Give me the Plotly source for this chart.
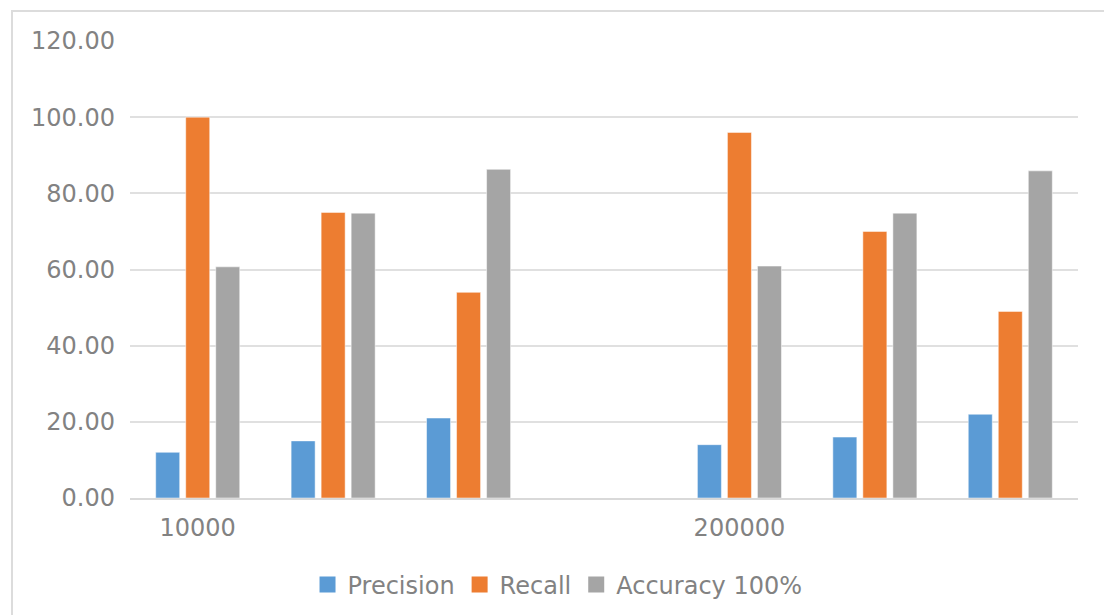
import plotly.graph_objects as go

# Category slots along the x axis (only two of them carry a label)
categories = ["10000", "", "", "", "200000", "", ""]
precision = [12.0, 15.0, 21.0, None, 14.0, 16.0, 22.0]
recall = [100.0, 75.0, 54.0, None, 96.0, 70.0, 49.0]
accuracy = [60.7, 74.8, 86.3, None, 60.9, 74.8, 85.9]

y_ticks = [0, 20, 40, 60, 80, 100, 120]

series = [
    ("Precision", precision, "#5B9BD5"),
    ("Recall", recall, "#ED7D31"),
    ("Accuracy 100%", accuracy, "#A5A5A5"),
]

positions = list(range(len(categories)))
label_pos = [p for p, c in zip(positions, categories) if c]
label_txt = [c for c in categories if c]

fig = go.Figure()
for name, vals, color in series:
    fig.add_trace(go.Bar(
        x=positions, y=vals, name=name, showlegend=False,
        marker=dict(color=color, line=dict(color="white", width=0.5)),
    ))
# Legend entries with larger square swatches
for name, vals, color in series:
    fig.add_trace(go.Scatter(
        x=[None], y=[None], mode="markers", name=name,
        marker=dict(symbol="square", size=16, color=color),
    ))

font_family = "DejaVu Sans"
text_color = "#828282"

fig.update_layout(
    width=1104, height=615,
    margin=dict(l=130, r=26, t=41, b=117, autoexpand=False),
    paper_bgcolor="white", plot_bgcolor="white",
    barmode="group", bargap=0.335, bargroupgap=0.2,
    font=dict(family=font_family, color=text_color, size=24),
    showlegend=True,
    legend=dict(
        orientation="h", xref="container", yref="container",
        x=0.505, xanchor="center", y=1 - 585 / 615, yanchor="middle",
        font=dict(size=24, color=text_color), itemwidth=30, traceorder="normal",
    ),
    xaxis=dict(
        range=[-0.5, len(categories) - 0.5],
        tickvals=label_pos, ticktext=label_txt,
        showgrid=False, zeroline=False, automargin=False,
        showline=True, linecolor="#d9d9d9", linewidth=2,
        ticks="", ticklabelstandoff=7,
        tickfont=dict(size=24, color=text_color),
    ),
    yaxis=dict(
        range=[0, 120], tickvals=y_ticks, tickformat=".2f",
        showgrid=True, gridcolor="#e0e0e0", gridwidth=2,
        zeroline=False, showline=False, ticks="", automargin=False,
        ticklabelstandoff=14,
        tickfont=dict(size=24, color=text_color),
    ),
)

# Light frame around the chart
fig.add_shape(
    type="rect", xref="paper", yref="paper",
    x0=(12 - 130) / 948, x1=(1110 - 130) / 948,
    y0=(498 - 625) / 457, y1=(498 - 11) / 457,
    line=dict(color="#dcdcdc", width=2), fillcolor="rgba(0,0,0,0)",
    layer="below",
)

fig.write_html("out.html")
